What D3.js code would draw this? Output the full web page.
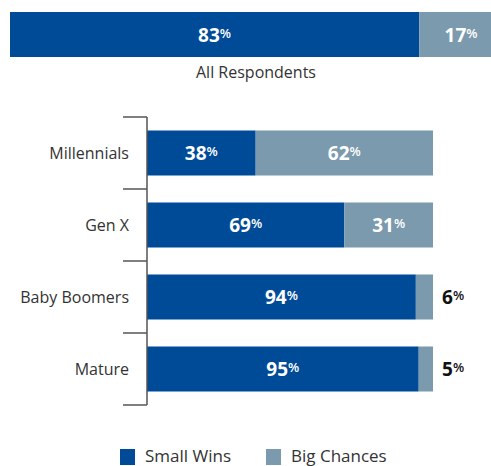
<!DOCTYPE html>
<html>
<head>
<meta charset="utf-8">
<script src="https://cdn.jsdelivr.net/npm/d3@7"></script>
<style>
  html, body { margin: 0; padding: 0; background: #fff; }
  svg { display: block; font-family: "Open Sans", "Noto Sans", sans-serif; }
</style>
</head>
<body>
<svg id="chart" width="491" height="466"></svg>
<script>
// Share of respondents preferring small wins vs big chances
const seriesNames = ["Small Wins", "Big Chances"];
const seriesColors = ["#004B98", "#7B9AAD"];

const allLabel = "All Respondents";
const allSmallWins = 83;
const allBigChances = 17;

const generations = ["Millennials", "Gen X", "Baby Boomers", "Mature"];
const smallWins = [38, 69, 94, 95];
const bigChances = [62, 31, 6, 5];

const svg = d3.select("#chart");

// Draws a value as bold digits with a smaller raised percent sign
function pctLabel(sel, value) {
  sel.append("tspan").attr("font-size", 19).attr("font-weight", 700).text(value);
  sel.append("tspan").attr("font-size", 13).attr("font-weight", 600).attr("dy", -4).text("%");
}

// ---- Overall bar ----
const xTop = d3.scaleLinear().domain([0, 100]).range([10, 503]);
const topY = 12, topH = 45;
const topStack = [
  { key: 0, x0: 0, x1: allSmallWins, v: allSmallWins },
  { key: 1, x0: allSmallWins, x1: allSmallWins + allBigChances, v: allBigChances }
];
svg.append("g").selectAll("rect").data(topStack).join("rect")
  .attr("x", d => xTop(d.x0)).attr("y", topY)
  .attr("width", d => xTop(d.x1) - xTop(d.x0)).attr("height", topH)
  .attr("fill", d => seriesColors[d.key]);
svg.append("g").selectAll("text").data(topStack).join("text")
  .attr("x", d => (xTop(d.x0) + xTop(d.x1)) / 2)
  .attr("y", topY + topH / 2 + 7)
  .attr("text-anchor", "middle").attr("fill", "#fff")
  .each(function (d) { pctLabel(d3.select(this), d.v); });
svg.append("text").attr("x", 256).attr("y", 78)
  .attr("text-anchor", "middle").attr("font-size", 16).attr("fill", "#333")
  .text(allLabel);

// ---- Generation bars ----
const x = d3.scaleLinear().domain([0, 100]).range([147, 433]);
const y = d3.scaleBand().domain(generations).range([117, 405]).paddingInner(0.375).paddingOuter(0.1875);

const rows = generations.map((g, i) => ({ g, s: smallWins[i], b: bigChances[i] }));

const rowG = svg.append("g").selectAll("g").data(rows).join("g");
rowG.append("rect")
  .attr("x", x(0)).attr("y", d => y(d.g))
  .attr("width", d => x(d.s) - x(0)).attr("height", y.bandwidth())
  .attr("fill", seriesColors[0]);
rowG.append("rect")
  .attr("x", d => x(d.s)).attr("y", d => y(d.g))
  .attr("width", d => x(d.s + d.b) - x(d.s)).attr("height", y.bandwidth())
  .attr("fill", seriesColors[1]);

rowG.append("text")
  .attr("x", d => (x(0) + x(d.s)) / 2)
  .attr("y", d => y(d.g) + y.bandwidth() / 2 + 7)
  .attr("text-anchor", "middle").attr("fill", "#fff")
  .each(function (d) { pctLabel(d3.select(this), d.s); });

// Big chances label: inside when it fits, otherwise just past the bar end
rowG.append("text")
  .attr("x", d => d.b >= 15 ? (x(d.s) + x(d.s + d.b)) / 2 : x(100) + 9)
  .attr("y", d => y(d.g) + y.bandwidth() / 2 + 7)
  .attr("text-anchor", d => d.b >= 15 ? "middle" : "start")
  .attr("fill", d => d.b >= 15 ? "#fff" : "#111")
  .each(function (d) { pctLabel(d3.select(this), d.b); });

// Category axis: vertical rule with ticks at band boundaries
const axisG = svg.append("g");
axisG.append("line")
  .attr("x1", x(0)).attr("x2", x(0)).attr("y1", 117).attr("y2", 405)
  .attr("stroke", "#555").attr("stroke-width", 1.5);
const bounds = [117].concat(generations.map(g => y(g) + y.bandwidth() + y.step() * y.paddingInner() / 2));
axisG.selectAll("line.tick").data(bounds).join("line").attr("class", "tick")
  .attr("x1", 123).attr("x2", x(0)).attr("y1", d => d).attr("y2", d => d)
  .attr("stroke", "#555").attr("stroke-width", 1.5);
axisG.selectAll("text").data(generations).join("text")
  .attr("x", 129).attr("y", d => y(d) + y.bandwidth() / 2 + 6)
  .attr("text-anchor", "end").attr("font-size", 16).attr("fill", "#333")
  .text(d => d);

// ---- Legend ----
const legendX = [120, 266];
const leg = svg.append("g").selectAll("g").data(seriesNames).join("g")
  .attr("transform", (d, i) => `translate(${legendX[i]},449)`);
leg.append("rect").attr("width", 15).attr("height", 16).attr("fill", (d, i) => seriesColors[i]);
leg.append("text").attr("x", 25).attr("y", 13).attr("font-size", 17).attr("fill", "#333").text(d => d);
</script>
</body>
</html>
